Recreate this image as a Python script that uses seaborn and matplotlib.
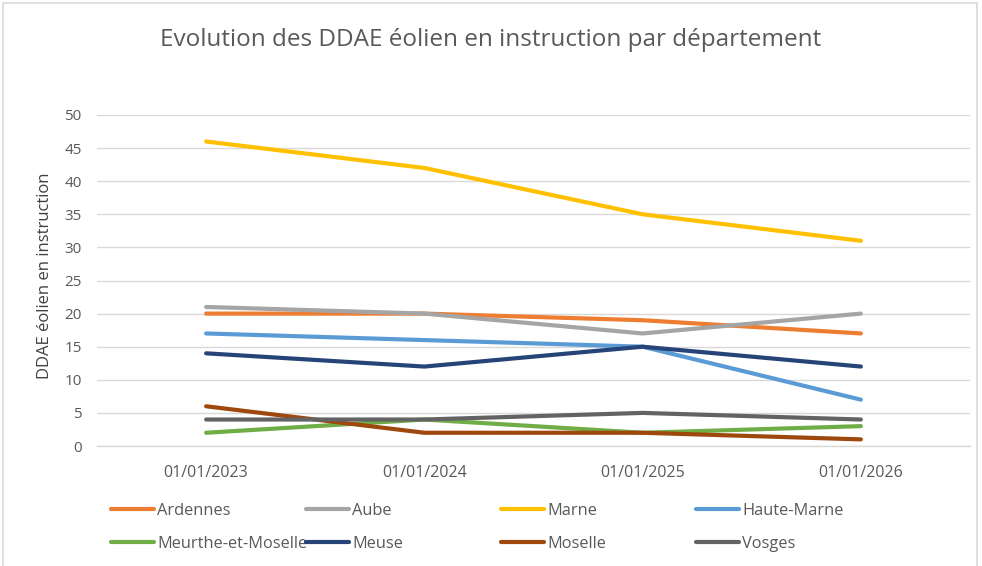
import pandas as pd
import matplotlib.pyplot as plt
import seaborn as sns
from matplotlib.patches import Rectangle

dates = ['01/01/2023', '01/01/2024', '01/01/2025', '01/01/2026']
departements = ['Ardennes', 'Aube', 'Marne', 'Haute-Marne',
                'Meurthe-et-Moselle', 'Meuse', 'Moselle', 'Vosges']
ardennes = [20, 20, 19, 17]
aube = [21, 20, 17, 20]
marne = [46, 42, 35, 31]
haute_marne = [17, 16, 15, 7]
meurthe = [2, 4, 2, 3]
meuse = [14, 12, 15, 12]
moselle = [6, 2, 2, 1]
vosges = [4, 4, 5, 4]
colors = ['#ED7D31', '#A5A5A5', '#FFC000', '#5B9BD5',
          '#70AD47', '#264478', '#9E480E', '#636363']

values = [ardennes, aube, marne, haute_marne, meurthe, meuse, moselle, vosges]
rows = []
for dep, vals in zip(departements, values):
    for i, v in enumerate(vals):
        rows.append({'date': dates[i], 'pos': i, 'departement': dep, 'n': v})
df = pd.DataFrame(rows)

sns.set_style('white')
plt.rcParams['font.family'] = ['Open Sans', 'DejaVu Sans']

fig = plt.figure(figsize=(9.82, 5.66), dpi=100)
ax = fig.add_axes([97 / 982, 1 - 446 / 566, 873 / 982, 331 / 566])

sns.lineplot(data=df, x='pos', y='n', hue='departement', hue_order=departements,
             palette=colors, linewidth=3, ax=ax, legend=False)

ax.set_xlim(-0.5, 3.5)
ax.set_ylim(0, 50)
ax.set_yticks(range(0, 51, 5))
ax.set_xticks(range(4))
ax.set_xticklabels(dates)
ax.set_xticks([-0.5, 0.5, 1.5, 2.5, 3.5], minor=True)
ax.grid(axis='y', color='#D9D9D9', linewidth=1)
ax.set_axisbelow(True)
for s in ['top', 'right', 'left']:
    ax.spines[s].set_visible(False)
ax.spines['bottom'].set_color('#D9D9D9')
ax.spines['bottom'].set_linewidth(1)
ax.tick_params(axis='y', length=0, labelsize=11, labelcolor='#595959', pad=11)
ax.tick_params(axis='x', which='major', length=0, labelsize=11.5, labelcolor='#595959', pad=14)
ax.tick_params(axis='x', which='minor', length=6, color='#D9D9D9', width=1)
ax.set_xlabel('')
ax.set_ylabel('')

fig.text(45 / 982, 1 - 276 / 566, 'DDAE éolien en instruction', rotation=90,
         ha='center', va='center', fontsize=12, color='#404040')
fig.text(0.5, 1 - 40 / 566, 'Evolution des DDAE éolien en instruction par département',
         ha='center', va='center', fontsize=17.5, color='#595959')

# legend: 4 columns at fixed x positions, 2 rows each
col_x = [111, 306, 501, 696]
for c, x in enumerate(col_x):
    idx = [c, c + 4]
    handles = [plt.Line2D([], [], color=colors[i], linewidth=3) for i in idx]
    leg = fig.legend(handles, [departements[i] for i in idx], loc='upper left',
                     bbox_to_anchor=(x / 982, 1 - 503 / 566), frameon=False,
                     fontsize=11.8, handlelength=2.6, handletextpad=0.2,
                     labelcolor='#595959', labelspacing=1.05,
                     borderaxespad=0, borderpad=0)

fig.patches.append(Rectangle((3 / 982, -0.05), 974 / 982, 1.05 - 3 / 566,
                             transform=fig.transFigure, fill=False,
                             edgecolor='#D9D9D9', linewidth=1.2))

fig.savefig('out.png', dpi=100)
